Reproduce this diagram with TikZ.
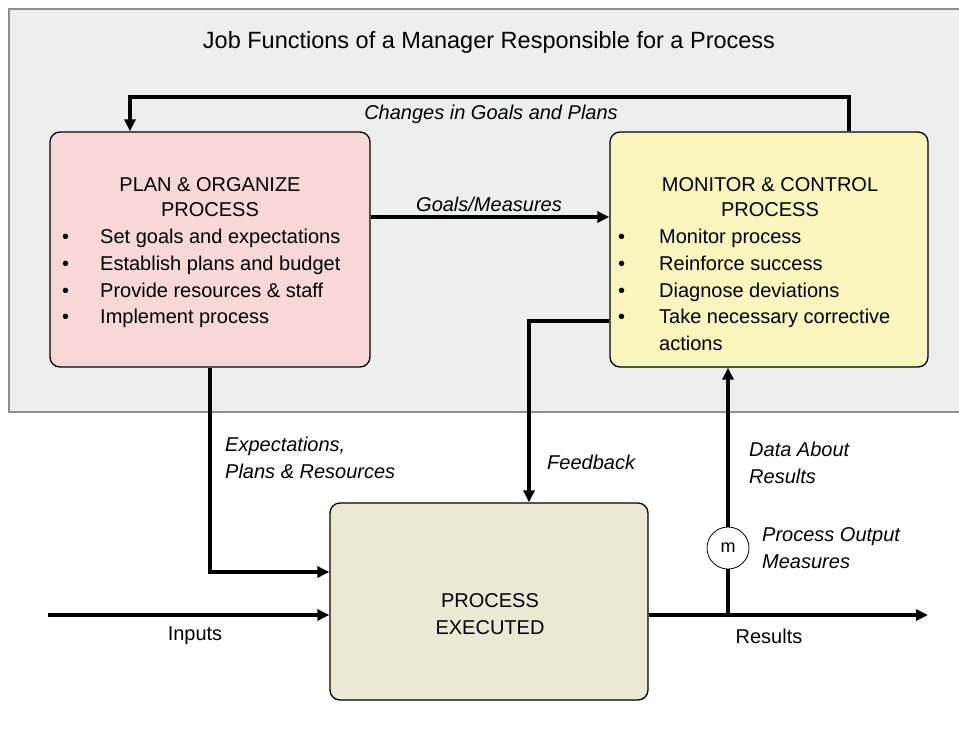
\documentclass[tikz,border=0pt]{standalone}
\usepackage{fontspec}
\setmainfont{Liberation Sans}
\usetikzlibrary{arrows.meta}

\definecolor{panelgray}{HTML}{EDEEEE}
\definecolor{panelline}{HTML}{8E8E8E}
\definecolor{planpink}{HTML}{F7D7D7}
\definecolor{monyellow}{HTML}{FAF5BD}
\definecolor{execbeige}{HTML}{ECE8D3}

\begin{document}
\begin{tikzpicture}[x=1pt,y=-1pt,
  box/.style={draw=black,line width=1.3pt,rounded corners=10pt,inner sep=0pt},
  flow/.style={line width=3.2pt,-{Triangle[length=12pt,width=11pt]}},
  plain/.style={line width=3.2pt},
  head/.style={inner sep=0pt,align=center,font=\fontsize{20}{25}\selectfont},
  item/.style={inner sep=0pt,anchor=base west,font=\fontsize{20}{25}\selectfont},
  lbl/.style={inner sep=0pt,align=left,font=\fontsize{20}{27}\selectfont\itshape}]

\useasboundingbox (0,0) rectangle (959,729);
\fill[white] (0,0) rectangle (959,729);

% the manager's panel
\draw[draw=panelline,line width=2pt,fill=panelgray] (9,9) rectangle (970,412);
\node[inner sep=0pt,font=\fontsize{23.5}{28}\selectfont] (title) at (489,42)
  {Job Functions of a Manager Responsible for a Process};

% boxes
\node[box,fill=planpink,minimum width=320pt,minimum height=235pt] (plan) at (210,249.5) {};
\node[box,fill=monyellow,minimum width=318pt,minimum height=235pt] (mon) at (769,249.5) {};
\node[box,fill=execbeige,minimum width=318pt,minimum height=197pt] (exec) at (489,601.5) {};

\node[head] (planhead) at (210,197) {PLAN \& ORGANIZE\\PROCESS};
\node[head] (monhead) at (770,197) {MONITOR \& CONTROL\\PROCESS};
\node[head,font=\fontsize{20}{27}\selectfont] (exechead) at (490,614) {PROCESS\\EXECUTED};

% bullet lists
\foreach \txt [count=\i] in {Set goals and expectations,Establish plans and budget,
    Provide resources \& staff,Implement process} {
  \node[item] (pl\i) at (100,217+26.7*\i) {\txt};
  \node[item] (plb\i) at (62,217+26.7*\i) {•};
}
\foreach \txt [count=\i] in {Monitor process,Reinforce success,Diagnose deviations,
    Take necessary corrective} {
  \node[item] (mo\i) at (659,217+26.7*\i) {\txt};
  \node[item] (mob\i) at (618,217+26.7*\i) {•};
}
\node[item] (mo5) at (659,350.5) {actions};

% measuring point
\node[circle,draw,line width=0.8pt,fill=white,minimum size=42pt,inner sep=0pt,
  font=\fontsize{18}{20}\selectfont] (m) at (728,548) {m};

% bends
\coordinate (loopR) at (849,97);
\coordinate (loopL) at (130,97);
\coordinate (gm) at (0,217);
\coordinate (ex) at (210,572);
\coordinate (fb) at (529,321);
\coordinate (in) at (48,615);
\coordinate (res) at (928,615);

% connectors
\draw[flow] (mon.north -| loopR) -- (loopR) -- (loopL) -- (loopL |- plan.north);
\draw[flow] (plan.east |- gm) -- (mon.west |- gm);
\draw[flow] (plan.south -| ex) -- (ex) -- (exec.west |- ex);
\draw[flow] (mon.west |- fb) -- (fb) -- (fb |- exec.north);
\draw[flow] (in) -- (exec.west |- in);
\draw[flow] (exec.east |- res) -- (res);
\draw[plain] (m |- res) -- (m.south);
\draw[flow] (m.north) -- (m |- mon.south);

% labels
\node[lbl] (chg) at (491,114) {Changes in Goals and Plans};
\node[lbl] (goals) at (489,204) {Goals/Measures};
\node[lbl,anchor=west] (expl) at (225,458) {Expectations,\\Plans \& Resources};
\node[lbl,anchor=west] (fbl) at (547,462) {Feedback};
\node[lbl,anchor=west] (datal) at (749,463) {Data About\\Results};
\node[lbl,anchor=west] (pom) at (762,548) {Process Output\\Measures};
\node[inner sep=0pt,font=\fontsize{20}{25}\selectfont] (inl) at (195,636) {Inputs};
\node[inner sep=0pt,font=\fontsize{20}{25}\selectfont] (resl) at (769,636) {Results};

\end{tikzpicture}
\end{document}
